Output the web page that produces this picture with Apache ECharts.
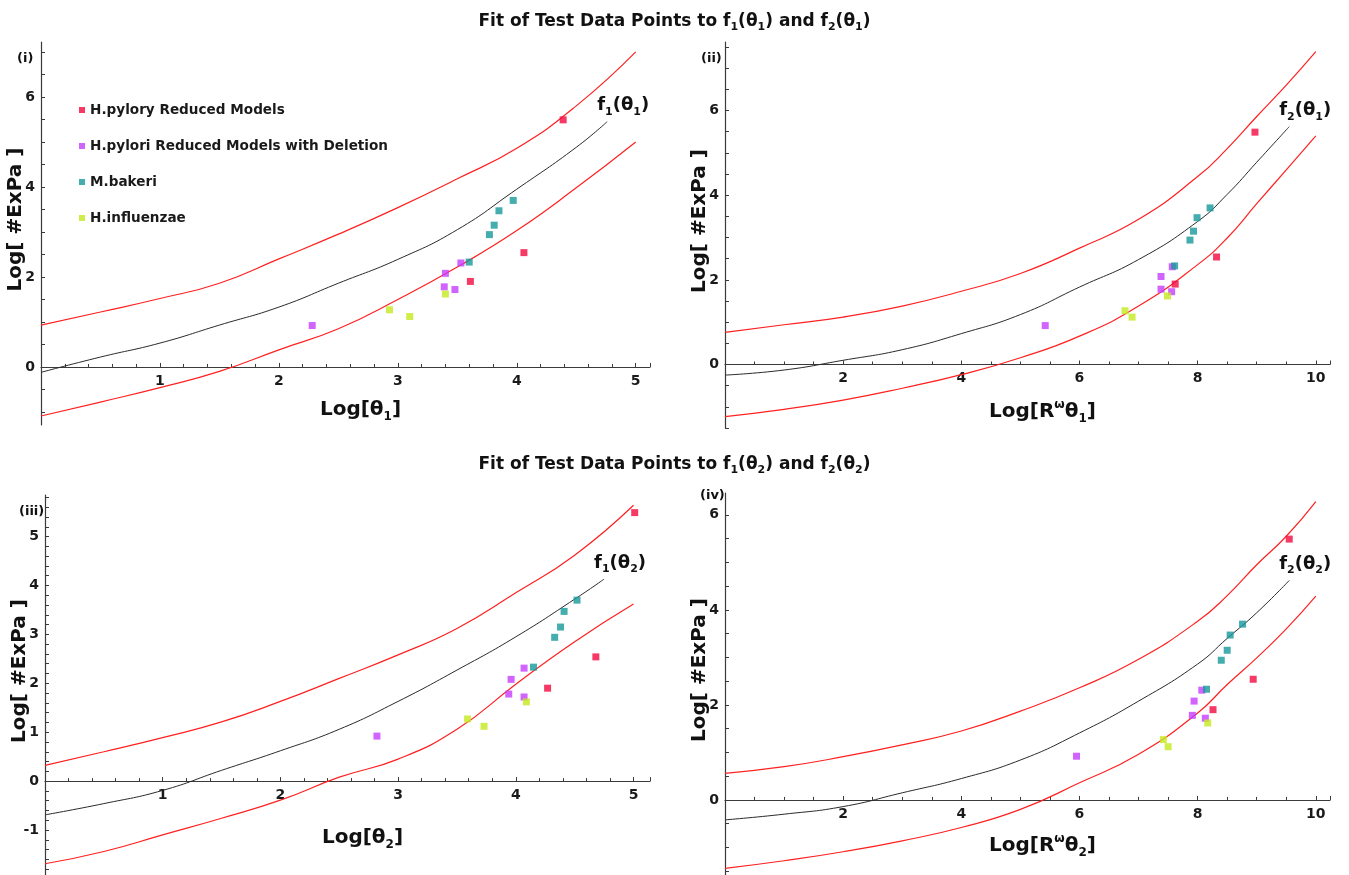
<!DOCTYPE html>
<html><head><meta charset="utf-8">
<script src="https://cdn.jsdelivr.net/npm/echarts@6/dist/echarts.min.js"></script>
<style>html,body{margin:0;padding:0;background:#fff}#c{width:1349px;height:875px}</style>
</head><body><div id="c"></div>
<script>
// ---------------- DATA ----------------
const groupNames = ['H.pylory Reduced Models', 'H.pylori Reduced Models with Deletion', 'M.bakeri', 'H.influenzae'];

// observed Log[#ExPa] of the test points (same in all panels)
const yPylory     = [5.49, 1.90, 2.54];
const yDeletion   = [0.92, 2.08, 2.31, 1.78, 1.72];
const yBakeri     = [2.33, 2.94, 3.15, 3.47, 3.70];
const yInfluenzae = [1.27, 1.12, 1.62];

// panel (i): Log[theta1]
const xPylory1     = [4.39, 3.61, 4.06];
const xDeletion1   = [2.28, 3.40, 3.53, 3.39, 3.48];
const xBakeri1     = [3.60, 3.77, 3.81, 3.85, 3.97];
const xInfluenzae1 = [2.93, 3.10, 3.40];
// panel (ii): Log[R^w theta1]
const xPylory2     = [8.97, 7.62, 8.32];
const xDeletion2   = [5.42, 7.38, 7.57, 7.38, 7.56];
const xBakeri2     = [7.61, 7.87, 7.93, 7.99, 8.21];
const xInfluenzae2 = [6.77, 6.89, 7.49];
// panel (iii): Log[theta2]
const xPylory3     = [5.01, 4.27, 4.68];
const xDeletion3   = [2.82, 3.96, 4.07, 3.94, 4.07];
const xBakeri3     = [4.15, 4.33, 4.38, 4.41, 4.52];
const xInfluenzae3 = [3.59, 3.73, 4.09];
// panel (iv): Log[R^w theta2]
const xPylory4     = [9.55, 8.26, 8.94];
const xDeletion4   = [5.95, 7.94, 8.07, 7.91, 8.13];
const xBakeri4     = [8.15, 8.40, 8.50, 8.55, 8.76];
const xInfluenzae4 = [7.42, 7.50, 8.17];

// fitted curves and bands
const curveXTheta = [0, 0.5, 1, 1.5, 2, 2.5, 3, 3.5, 4, 4.5, 5];
const upper1 = [0.93, 1.22, 1.52, 1.86, 2.40, 2.95, 3.54, 4.18, 4.86, 5.80, 7.00];
const lower1 = [-1.09, -0.78, -0.46, -0.10, 0.38, 0.85, 1.50, 2.22, 3.03, 3.98, 5.00];
const fitX1  = [0, 0.5, 1, 1.5, 2, 2.5, 3, 3.5, 4, 4.5, 4.76];
const fit1   = [-0.12, 0.22, 0.53, 0.93, 1.33, 1.86, 2.39, 3.05, 3.95, 4.88, 5.45];

const curveXR = [0, 1, 2, 3, 4, 5, 6, 7, 8, 8.5, 9, 9.5, 10];
const upper2 = [0.76, 0.94, 1.12, 1.38, 1.73, 2.15, 2.75, 3.43, 4.44, 5.10, 5.86, 6.60, 7.39];
const lower2 = [-1.23, -1.06, -0.84, -0.56, -0.24, 0.16, 0.67, 1.38, 2.36, 2.99, 3.80, 4.60, 5.40];
const fitX2  = [0, 1, 2, 3, 4, 5, 6, 7, 8, 8.5, 9, 9.55];
const fit2   = [-0.25, -0.13, 0.10, 0.35, 0.73, 1.18, 1.83, 2.48, 3.38, 4.02, 4.78, 5.62];

const upper3 = [0.32, 0.60, 0.89, 1.21, 1.63, 2.10, 2.58, 3.12, 3.85, 4.62, 5.64];
const lower3 = [-1.69, -1.44, -1.10, -0.76, -0.39, 0.08, 0.45, 1.06, 1.98, 2.85, 3.62];
const fitX3  = [0, 0.5, 1, 1.5, 2, 2.5, 3, 3.5, 4, 4.5, 4.75];
const fit3   = [-0.69, -0.46, -0.19, 0.22, 0.62, 1.06, 1.63, 2.27, 2.95, 3.72, 4.13];

const upper4 = [0.56, 0.70, 0.91, 1.16, 1.45, 1.87, 2.36, 2.96, 3.76, 4.30, 4.95, 5.55, 6.28];
const lower4 = [-1.44, -1.28, -1.09, -0.86, -0.58, -0.20, 0.36, 0.96, 1.83, 2.43, 2.99, 3.60, 4.29];
const fitX4  = [0, 1, 2, 3, 4, 5, 6, 7, 8, 8.5, 9, 9.55];
const fit4   = [-0.42, -0.30, -0.14, 0.15, 0.45, 0.84, 1.41, 2.08, 2.86, 3.40, 3.94, 4.62];

// tick labels
const xTicksTheta = [1, 2, 3, 4, 5];
const xTicksR = [2, 4, 6, 8, 10];
const yTicks1 = [0, 2, 4, 6];
const yTicks3 = [-1, 0, 1, 2, 3, 4, 5];

// ---------------- STYLE / LAYOUT ----------------
const FONT = "'DejaVu Sans', sans-serif";
const groupColors = ['#f20a3e', '#c63cff', '#16999a', '#c4ea1e'];
const pair = (xs, ys) => xs.map((x, i) => [x, ys[i]]);

const subRich = (m, s) => ({
  m: {fontFamily: FONT, fontWeight: 'bold', fontSize: m, color: '#111', lineHeight: Math.round(m * 1.3)},
  s: {fontFamily: FONT, fontWeight: 'bold', fontSize: s, color: '#111', verticalAlign: 'bottom', lineHeight: Math.round(s * 0.8)},
  p: {fontFamily: FONT, fontWeight: 'bold', fontSize: s, color: '#111', verticalAlign: 'top', lineHeight: Math.round(s * 0.8)}
});

const panels = [
  {grid: {left: 41, top: 42, width: 609, height: 383}, xmax: 5.12, ymin: -1.29, ymax: 7.22, xint: 1, xminor: 5,
   xTicks: xTicksTheta, yLabels: yTicks1, ystep: 0.5, xName: '{m|Log[θ}{s|1}{m|]}', xGap: 30,
   fLabel: '{m|f}{s|1}{m|(θ}{s|1}{m|)}',
   xs: [xPylory1, xDeletion1, xBakeri1, xInfluenzae1], up: upper1, lo: lower1, cx: curveXTheta, fx: fitX1, f: fit1},
  {grid: {left: 725, top: 42, width: 605, height: 386}, xmax: 10.24, ymin: -1.5, ymax: 7.62, xint: 2, xminor: 4,
   xTicks: xTicksR, yLabels: yTicks1, ystep: 0.5, xName: '{m|Log[R}{p|ω}{m|θ}{s|1}{m|]}', xGap: 34,
   fLabel: '{m|f}{s|2}{m|(θ}{s|1}{m|)}',
   xs: [xPylory2, xDeletion2, xBakeri2, xInfluenzae2], up: upper2, lo: lower2, cx: curveXR, fx: fitX2, f: fit2},
  {grid: {left: 45, top: 495, width: 605, height: 380}, xmax: 5.14, ymin: -1.92, ymax: 5.85, xint: 1, xminor: 5,
   xTicks: xTicksTheta, yLabels: yTicks3, ystep: 0.2, xName: '{m|Log[θ}{s|2}{m|]}', xGap: 44,
   fLabel: '{m|f}{s|1}{m|(θ}{s|2}{m|)}',
   xs: [xPylory3, xDeletion3, xBakeri3, xInfluenzae3], up: upper3, lo: lower3, cx: curveXTheta, fx: fitX3, f: fit3},
  {grid: {left: 725, top: 493, width: 605, height: 382}, xmax: 10.24, ymin: -1.58, ymax: 6.46, xint: 2, xminor: 4,
   xTicks: xTicksR, yLabels: yTicks1, ystep: 0.5, xName: '{m|Log[R}{p|ω}{m|θ}{s|2}{m|]}', xGap: 33,
   fLabel: '{m|f}{s|2}{m|(θ}{s|2}{m|)}',
   xs: [xPylory4, xDeletion4, xBakeri4, xInfluenzae4], up: upper4, lo: lower4, cx: curveXR, fx: fitX4, f: fit4}
];
const ysAll = [yPylory, yDeletion, yBakeri, yInfluenzae];

const axisColor = '#3a3a3a';
const labelStyle = {fontFamily: FONT, fontWeight: 'bold', fontSize: 14, color: '#1a1a1a'};

const grids = [], xAxes = [], yAxes = [], series = [];
panels.forEach((p, i) => {
  grids.push(Object.assign({containLabel: false}, p.grid));
  const yt = [];
  for (let v = Math.ceil(p.ymin / p.ystep - 1e-9) * p.ystep; v <= p.ymax + 1e-9; v += p.ystep) yt.push(+v.toFixed(2));
  // shift the x axis up so that it crosses the y axis at zero
  const zeroShift = -p.grid.height * (0 - p.ymin) / (p.ymax - p.ymin);
  xAxes.push({
    type: 'value', gridIndex: i, min: 0, max: p.xmax, interval: p.xint, offset: zeroShift,
    axisLine: {onZero: false, lineStyle: {color: axisColor, width: 1.2}},
    axisTick: {show: true, inside: true, length: 4, lineStyle: {color: axisColor}},
    minorTick: {show: true, splitNumber: p.xminor, length: 3, lineStyle: {color: axisColor}},
    splitLine: {show: false},
    axisLabel: Object.assign({margin: 7, customValues: p.xTicks}, labelStyle),
    name: p.xName, nameLocation: 'middle', nameGap: p.xGap, nameMoveOverlap: false,
    nameTextStyle: {rich: subRich(20, 12), padding: [0, 0, 0, 30]}
  });
  yAxes.push({
    type: 'value', gridIndex: i, min: p.ymin, max: p.ymax,
    axisLine: {onZero: false, lineStyle: {color: axisColor, width: 1.2}},
    axisTick: {show: true, inside: true, length: 4, customValues: yt, lineStyle: {color: axisColor}},
    splitLine: {show: false},
    axisLabel: Object.assign({margin: 6, customValues: p.yLabels}, labelStyle),
    name: '{m|Log[ #ExPa ]}', nameLocation: 'middle', nameRotate: 90, nameGap: 12, nameMoveOverlap: false,
    nameTextStyle: {rich: subRich(20, 12), padding: [0, 0, 0, 28]}
  });
  const base = {xAxisIndex: i, yAxisIndex: i, animation: false, silent: true};
  series.push(Object.assign({type: 'line', data: pair(p.cx, p.up), showSymbol: false, smooth: 0.5,
    lineStyle: {color: '#ff2020', width: 1.2}, z: 2}, base));
  series.push(Object.assign({type: 'line', data: pair(p.cx, p.lo), showSymbol: false, smooth: 0.5,
    lineStyle: {color: '#ff2020', width: 1.2}, z: 2}, base));
  series.push(Object.assign({type: 'line', data: pair(p.fx, p.f), showSymbol: false, smooth: 0.5,
    lineStyle: {color: '#2a2a2a', width: 1}, z: 2,
    endLabel: {show: true, formatter: p.fLabel, distance: 0, offset: [16, -16], align: 'center', verticalAlign: 'middle',
      rich: subRich(18, 11)}}, base));
  groupNames.forEach((n, g) => {
    series.push(Object.assign({type: 'scatter', name: n, data: pair(p.xs[g], ysAll[g]), symbol: 'rect', symbolSize: 7,
      itemStyle: {color: groupColors[g]}, z: 4}, base));
  });
});

const titleRich = {
  m: {fontFamily: FONT, fontWeight: 'bold', fontSize: 17, color: '#111', lineHeight: 22},
  s: {fontFamily: FONT, fontWeight: 'bold', fontSize: 11, color: '#111', verticalAlign: 'bottom', lineHeight: 8}
};
const panelTag = {fontFamily: FONT, fontWeight: 'bold', fontSize: 13, color: '#111'};

const option = {
  backgroundColor: '#ffffff',
  animation: false,
  title: [
    {text: '{m|Fit of Test Data Points to f}{s|1}{m|(θ}{s|1}{m|) and f}{s|2}{m|(θ}{s|1}{m|)}', left: 'center', top: 6, textStyle: {rich: titleRich}},
    {text: '{m|Fit of Test Data Points to f}{s|1}{m|(θ}{s|2}{m|) and f}{s|2}{m|(θ}{s|2}{m|)}', left: 'center', top: 449, textStyle: {rich: titleRich}},
    {text: '(i)', left: 12, top: 47, textStyle: panelTag},
    {text: '(ii)', left: 696, top: 47, textStyle: panelTag},
    {text: '(iii)', left: 14, top: 500, textStyle: panelTag},
    {text: '(iv)', left: 695, top: 484, textStyle: panelTag}
  ],
  legend: {
    data: groupNames, orient: 'vertical', left: 74, top: 98, itemWidth: 6, itemHeight: 6, itemGap: 22,
    icon: 'rect', textStyle: {fontFamily: FONT, fontWeight: 'bold', fontSize: 13.6, color: '#1a1a1a'}
  },
  grid: grids, xAxis: xAxes, yAxis: yAxes, series: series
};
echarts.init(document.getElementById('c'), null, {renderer: 'canvas'}).setOption(option);
</script></body></html>
